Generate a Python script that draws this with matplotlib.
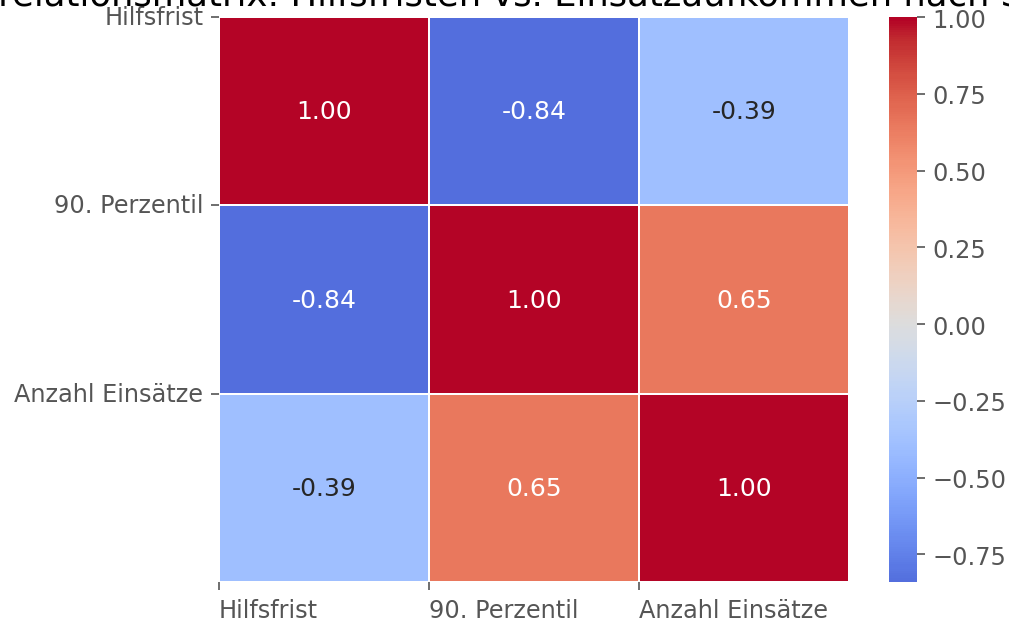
"""Korrelationsmatrix Hilfsfristen vs. Einsatzaufkommen als Heatmap."""

import matplotlib
matplotlib.use("Agg")
import matplotlib.pyplot as plt
import numpy as np

LABELS = ["Hilfsfrist", "90. Perzentil", "Anzahl Einsätze"]
CORR = [
    [1.00, -0.84, -0.39],
    [-0.84, 1.00, 0.65],
    [-0.39, 0.65, 1.00],
]
CBAR_TICKS = [-0.75, -0.50, -0.25, 0.00, 0.25, 0.50, 0.75, 1.00]
TITLE = "Korrelationsmatrix: Hilfsfristen vs. Einsatzaufkommen nach Stunde"

GRAY = "#555555"


def luminance(rgba):
    rgb = np.array(rgba[:3])
    rgb = np.where(rgb <= 0.03928, rgb / 12.92, ((rgb + 0.055) / 1.055) ** 2.4)
    return 0.2126 * rgb[0] + 0.7152 * rgb[1] + 0.0722 * rgb[2]


data = np.array(CORR)
vmin, vmax = data.min(), data.max()

# colormap centred on 0 (like seaborn's center=0), cut to the data range
base = plt.get_cmap("coolwarm")
vrange = max(vmax, -vmin)
cmin, cmax = (vmin + vrange) / (2 * vrange), (vmax + vrange) / (2 * vrange)
cmap = matplotlib.colors.ListedColormap(base(np.linspace(cmin, cmax, 256)))
norm = matplotlib.colors.Normalize(vmin=vmin, vmax=vmax)

fig = plt.figure(figsize=(1009 / 150, 626 / 150), dpi=150)
ax = fig.add_axes([0.217, 0.0687, 0.6244, 0.9025])
cax = fig.add_axes([0.881, 0.0687, 0.0278, 0.9025])

mesh = ax.pcolormesh(data, cmap=cmap, norm=norm, edgecolors="white", linewidth=0.8)
ax.set_xlim(0, data.shape[1])
ax.set_ylim(data.shape[0], 0)
for s in ax.spines.values():
    s.set_visible(False)

for i in range(data.shape[0]):
    for j in range(data.shape[1]):
        val = data[i, j]
        color = "#262626" if luminance(cmap(norm(val))) > 0.408 else "white"
        ax.text(j + 0.5, i + 0.5, f"{val:.2f}", ha="center", va="center",
                fontsize=12, color=color)

ax.set_xticks(range(len(LABELS)))
ax.set_xticklabels(LABELS, ha="left")
ax.set_yticks(range(len(LABELS)))
ax.set_yticklabels(LABELS, va="center")
ax.tick_params(colors=GRAY, labelsize=11.5, length=4, width=0.8)
ax.set_title(TITLE, fontsize=17, pad=6)

cb = fig.colorbar(mesh, cax=cax, ticks=CBAR_TICKS)
cb.outline.set_visible(False)
cb.ax.tick_params(colors=GRAY, labelsize=11.5, length=4, width=0.8)
cb.ax.set_yticklabels([f"{t:.2f}".replace("-", "\u2212") for t in CBAR_TICKS])

fig.savefig("out.png", dpi=150)
